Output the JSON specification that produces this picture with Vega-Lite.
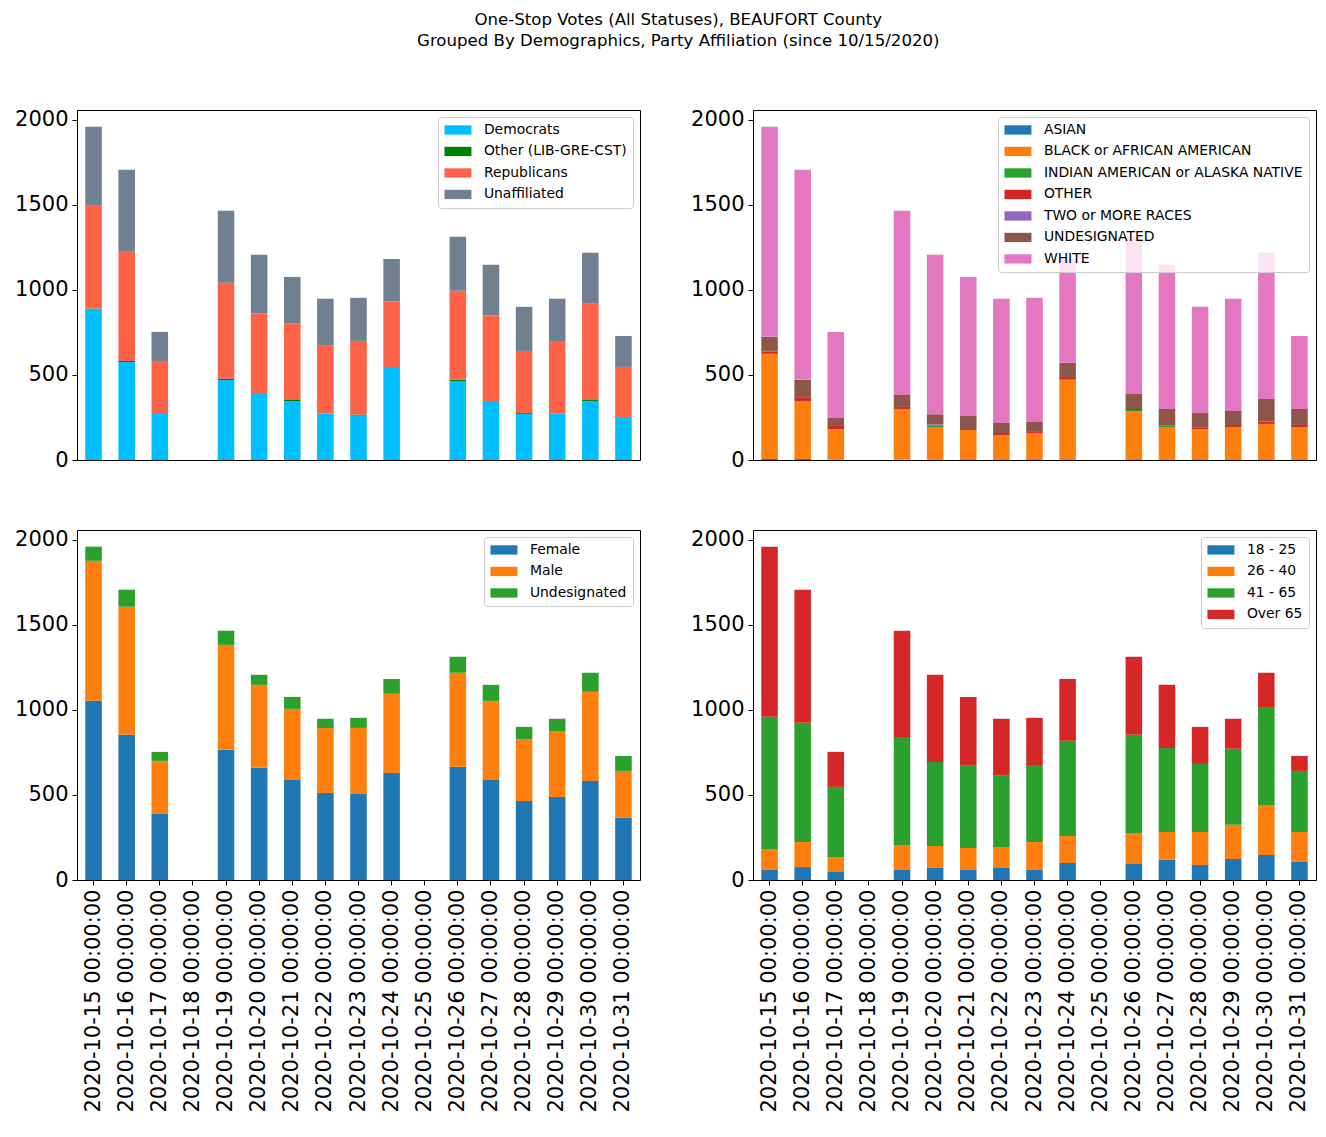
{
  "$schema": "https://vega.github.io/schema/vega-lite/v6.json",
  "padding": {"left": 14, "top": 11, "right": 6, "bottom": 5},
  "background": "white",
  "title": {
    "text": ["One-Stop Votes (All Statuses), BEAUFORT County", "Grouped By Demographics, Party Affiliation (since 10/15/2020)"],
    "fontSize": 16.6, "fontWeight": "normal", "font": "DejaVu Sans", "color": "black",
    "anchor": "middle", "lineHeight": 21, "offset": 59, "dx": 13
  },
  "datasets": {
    "party": [
      {"date": "2020-10-15 00:00:00", "Democrats": 888, "Other (LIB-GRE-CST)": 2, "Republicans": 604, "Unaffiliated": 465},
      {"date": "2020-10-16 00:00:00", "Democrats": 576, "Other (LIB-GRE-CST)": 6, "Republicans": 647, "Unaffiliated": 477},
      {"date": "2020-10-17 00:00:00", "Democrats": 276, "Other (LIB-GRE-CST)": 0, "Republicans": 306, "Unaffiliated": 171},
      {"date": "2020-10-19 00:00:00", "Democrats": 470, "Other (LIB-GRE-CST)": 8, "Republicans": 563, "Unaffiliated": 424},
      {"date": "2020-10-20 00:00:00", "Democrats": 394, "Other (LIB-GRE-CST)": 0, "Republicans": 467, "Unaffiliated": 345},
      {"date": "2020-10-21 00:00:00", "Democrats": 345, "Other (LIB-GRE-CST)": 8, "Republicans": 449, "Unaffiliated": 274},
      {"date": "2020-10-22 00:00:00", "Democrats": 272, "Other (LIB-GRE-CST)": 2, "Republicans": 398, "Unaffiliated": 275},
      {"date": "2020-10-23 00:00:00", "Democrats": 261, "Other (LIB-GRE-CST)": 6, "Republicans": 433, "Unaffiliated": 253},
      {"date": "2020-10-24 00:00:00", "Democrats": 547, "Other (LIB-GRE-CST)": 0, "Republicans": 384, "Unaffiliated": 251},
      {"date": "2020-10-26 00:00:00", "Democrats": 465, "Other (LIB-GRE-CST)": 6, "Republicans": 523, "Unaffiliated": 318},
      {"date": "2020-10-27 00:00:00", "Democrats": 347, "Other (LIB-GRE-CST)": 0, "Republicans": 502, "Unaffiliated": 298},
      {"date": "2020-10-28 00:00:00", "Democrats": 271, "Other (LIB-GRE-CST)": 5, "Republicans": 365, "Unaffiliated": 259},
      {"date": "2020-10-29 00:00:00", "Democrats": 272, "Other (LIB-GRE-CST)": 0, "Republicans": 428, "Unaffiliated": 247},
      {"date": "2020-10-30 00:00:00", "Democrats": 347, "Other (LIB-GRE-CST)": 6, "Republicans": 566, "Unaffiliated": 299},
      {"date": "2020-10-31 00:00:00", "Democrats": 253, "Other (LIB-GRE-CST)": 0, "Republicans": 294, "Unaffiliated": 182}
    ],
    "race": [
      {"date": "2020-10-15 00:00:00", "ASIAN": 6, "BLACK or AFRICAN AMERICAN": 618, "INDIAN AMERICAN or ALASKA NATIVE": 0, "OTHER": 11, "TWO or MORE RACES": 6, "UNDESIGNATED": 83, "WHITE": 1235},
      {"date": "2020-10-16 00:00:00", "ASIAN": 6, "BLACK or AFRICAN AMERICAN": 341, "INDIAN AMERICAN or ALASKA NATIVE": 0, "OTHER": 18, "TWO or MORE RACES": 0, "UNDESIGNATED": 106, "WHITE": 1235},
      {"date": "2020-10-17 00:00:00", "ASIAN": 1, "BLACK or AFRICAN AMERICAN": 181, "INDIAN AMERICAN or ALASKA NATIVE": 0, "OTHER": 18, "TWO or MORE RACES": 0, "UNDESIGNATED": 47, "WHITE": 506},
      {"date": "2020-10-19 00:00:00", "ASIAN": 1, "BLACK or AFRICAN AMERICAN": 299, "INDIAN AMERICAN or ALASKA NATIVE": 0, "OTHER": 12, "TWO or MORE RACES": 0, "UNDESIGNATED": 70, "WHITE": 1083},
      {"date": "2020-10-20 00:00:00", "ASIAN": 1, "BLACK or AFRICAN AMERICAN": 193, "INDIAN AMERICAN or ALASKA NATIVE": 6, "OTHER": 4, "TWO or MORE RACES": 6, "UNDESIGNATED": 59, "WHITE": 937},
      {"date": "2020-10-21 00:00:00", "ASIAN": 0, "BLACK or AFRICAN AMERICAN": 176, "INDIAN AMERICAN or ALASKA NATIVE": 0, "OTHER": 6, "TWO or MORE RACES": 0, "UNDESIGNATED": 77, "WHITE": 817},
      {"date": "2020-10-22 00:00:00", "ASIAN": 0, "BLACK or AFRICAN AMERICAN": 147, "INDIAN AMERICAN or ALASKA NATIVE": 0, "OTHER": 12, "TWO or MORE RACES": 0, "UNDESIGNATED": 59, "WHITE": 729},
      {"date": "2020-10-23 00:00:00", "ASIAN": 0, "BLACK or AFRICAN AMERICAN": 159, "INDIAN AMERICAN or ALASKA NATIVE": 0, "OTHER": 6, "TWO or MORE RACES": 0, "UNDESIGNATED": 59, "WHITE": 729},
      {"date": "2020-10-24 00:00:00", "ASIAN": 0, "BLACK or AFRICAN AMERICAN": 471, "INDIAN AMERICAN or ALASKA NATIVE": 0, "OTHER": 11, "TWO or MORE RACES": 0, "UNDESIGNATED": 89, "WHITE": 611},
      {"date": "2020-10-26 00:00:00", "ASIAN": 0, "BLACK or AFRICAN AMERICAN": 288, "INDIAN AMERICAN or ALASKA NATIVE": 6, "OTHER": 6, "TWO or MORE RACES": 0, "UNDESIGNATED": 88, "WHITE": 924},
      {"date": "2020-10-27 00:00:00", "ASIAN": 0, "BLACK or AFRICAN AMERICAN": 194, "INDIAN AMERICAN or ALASKA NATIVE": 6, "OTHER": 4, "TWO or MORE RACES": 0, "UNDESIGNATED": 96, "WHITE": 847},
      {"date": "2020-10-28 00:00:00", "ASIAN": 0, "BLACK or AFRICAN AMERICAN": 182, "INDIAN AMERICAN or ALASKA NATIVE": 0, "OTHER": 6, "TWO or MORE RACES": 6, "UNDESIGNATED": 82, "WHITE": 624},
      {"date": "2020-10-29 00:00:00", "ASIAN": 0, "BLACK or AFRICAN AMERICAN": 194, "INDIAN AMERICAN or ALASKA NATIVE": 0, "OTHER": 12, "TWO or MORE RACES": 0, "UNDESIGNATED": 82, "WHITE": 659},
      {"date": "2020-10-30 00:00:00", "ASIAN": 0, "BLACK or AFRICAN AMERICAN": 212, "INDIAN AMERICAN or ALASKA NATIVE": 0, "OTHER": 12, "TWO or MORE RACES": 5, "UNDESIGNATED": 130, "WHITE": 859},
      {"date": "2020-10-31 00:00:00", "ASIAN": 0, "BLACK or AFRICAN AMERICAN": 194, "INDIAN AMERICAN or ALASKA NATIVE": 0, "OTHER": 12, "TWO or MORE RACES": 0, "UNDESIGNATED": 94, "WHITE": 429}
    ],
    "gender": [
      {"date": "2020-10-15 00:00:00", "Female": 1053, "Male": 823, "Undesignated": 83},
      {"date": "2020-10-16 00:00:00", "Female": 853, "Male": 753, "Undesignated": 100},
      {"date": "2020-10-17 00:00:00", "Female": 388, "Male": 312, "Undesignated": 53},
      {"date": "2020-10-19 00:00:00", "Female": 765, "Male": 617, "Undesignated": 83},
      {"date": "2020-10-20 00:00:00", "Female": 659, "Male": 488, "Undesignated": 59},
      {"date": "2020-10-21 00:00:00", "Female": 588, "Male": 418, "Undesignated": 70},
      {"date": "2020-10-22 00:00:00", "Female": 512, "Male": 382, "Undesignated": 53},
      {"date": "2020-10-23 00:00:00", "Female": 506, "Male": 388, "Undesignated": 59},
      {"date": "2020-10-24 00:00:00", "Female": 629, "Male": 465, "Undesignated": 88},
      {"date": "2020-10-26 00:00:00", "Female": 665, "Male": 553, "Undesignated": 94},
      {"date": "2020-10-27 00:00:00", "Female": 588, "Male": 465, "Undesignated": 94},
      {"date": "2020-10-28 00:00:00", "Female": 465, "Male": 364, "Undesignated": 71},
      {"date": "2020-10-29 00:00:00", "Female": 488, "Male": 388, "Undesignated": 71},
      {"date": "2020-10-30 00:00:00", "Female": 582, "Male": 524, "Undesignated": 112},
      {"date": "2020-10-31 00:00:00", "Female": 365, "Male": 276, "Undesignated": 88}
    ],
    "age": [
      {"date": "2020-10-15 00:00:00", "18 - 25": 59, "26 - 40": 123, "41 - 65": 777, "Over 65": 1000},
      {"date": "2020-10-16 00:00:00", "18 - 25": 76, "26 - 40": 148, "41 - 65": 700, "Over 65": 782},
      {"date": "2020-10-17 00:00:00", "18 - 25": 47, "26 - 40": 88, "41 - 65": 412, "Over 65": 206},
      {"date": "2020-10-19 00:00:00", "18 - 25": 59, "26 - 40": 147, "41 - 65": 635, "Over 65": 624},
      {"date": "2020-10-20 00:00:00", "18 - 25": 71, "26 - 40": 129, "41 - 65": 494, "Over 65": 512},
      {"date": "2020-10-21 00:00:00", "18 - 25": 59, "26 - 40": 129, "41 - 65": 483, "Over 65": 405},
      {"date": "2020-10-22 00:00:00", "18 - 25": 71, "26 - 40": 123, "41 - 65": 418, "Over 65": 335},
      {"date": "2020-10-23 00:00:00", "18 - 25": 59, "26 - 40": 165, "41 - 65": 447, "Over 65": 282},
      {"date": "2020-10-24 00:00:00", "18 - 25": 100, "26 - 40": 159, "41 - 65": 559, "Over 65": 364},
      {"date": "2020-10-26 00:00:00", "18 - 25": 94, "26 - 40": 182, "41 - 65": 577, "Over 65": 459},
      {"date": "2020-10-27 00:00:00", "18 - 25": 118, "26 - 40": 164, "41 - 65": 494, "Over 65": 371},
      {"date": "2020-10-28 00:00:00", "18 - 25": 88, "26 - 40": 194, "41 - 65": 400, "Over 65": 218},
      {"date": "2020-10-29 00:00:00", "18 - 25": 124, "26 - 40": 200, "41 - 65": 447, "Over 65": 176},
      {"date": "2020-10-30 00:00:00", "18 - 25": 147, "26 - 40": 294, "41 - 65": 571, "Over 65": 206},
      {"date": "2020-10-31 00:00:00", "18 - 25": 106, "26 - 40": 176, "41 - 65": 359, "Over 65": 88}
    ]
  },
  "vconcat": [
    {
      "hconcat": [
        {
          "width": 563, "height": 350,
          "data": {"name": "party"},
          "transform": [{"fold": ["Democrats", "Other (LIB-GRE-CST)", "Republicans", "Unaffiliated"], "as": ["group", "votes"]}],
          "mark": {"type": "bar"},
          "encoding": {
            "x": {"field": "date", "type": "nominal", "axis": null,
                  "scale": {"domain": ["2020-10-15 00:00:00","2020-10-16 00:00:00","2020-10-17 00:00:00","2020-10-18 00:00:00","2020-10-19 00:00:00","2020-10-20 00:00:00","2020-10-21 00:00:00","2020-10-22 00:00:00","2020-10-23 00:00:00","2020-10-24 00:00:00","2020-10-25 00:00:00","2020-10-26 00:00:00","2020-10-27 00:00:00","2020-10-28 00:00:00","2020-10-29 00:00:00","2020-10-30 00:00:00","2020-10-31 00:00:00"], "paddingInner": 0.5, "paddingOuter": 0.25}},
            "y": {"field": "votes", "type": "quantitative", "stack": "zero", "scale": {"domain": [0, 2057], "nice": false}, "axis": {"values": [0, 500, 1000, 1500, 2000], "format": "d"}},
            "color": {"field": "group", "type": "nominal", "scale": {"domain": ["Democrats", "Other (LIB-GRE-CST)", "Republicans", "Unaffiliated"], "range": ["#00bfff", "#008000", "#ff6347", "#708090"]}, "legend": {"title": null}},
            "order": {"field": "group", "sort": "ascending"}
          }
        },
        {
          "width": 563, "height": 350,
          "data": {"name": "race"},
          "transform": [{"fold": ["ASIAN", "BLACK or AFRICAN AMERICAN", "INDIAN AMERICAN or ALASKA NATIVE", "OTHER", "TWO or MORE RACES", "UNDESIGNATED", "WHITE"], "as": ["group", "votes"]}],
          "mark": {"type": "bar"},
          "encoding": {
            "x": {"field": "date", "type": "nominal", "axis": null,
                  "scale": {"domain": ["2020-10-15 00:00:00","2020-10-16 00:00:00","2020-10-17 00:00:00","2020-10-18 00:00:00","2020-10-19 00:00:00","2020-10-20 00:00:00","2020-10-21 00:00:00","2020-10-22 00:00:00","2020-10-23 00:00:00","2020-10-24 00:00:00","2020-10-25 00:00:00","2020-10-26 00:00:00","2020-10-27 00:00:00","2020-10-28 00:00:00","2020-10-29 00:00:00","2020-10-30 00:00:00","2020-10-31 00:00:00"], "paddingInner": 0.5, "paddingOuter": 0.25}},
            "y": {"field": "votes", "type": "quantitative", "stack": "zero", "scale": {"domain": [0, 2057], "nice": false}, "axis": {"values": [0, 500, 1000, 1500, 2000], "format": "d"}},
            "color": {"field": "group", "type": "nominal", "scale": {"domain": ["ASIAN", "BLACK or AFRICAN AMERICAN", "INDIAN AMERICAN or ALASKA NATIVE", "OTHER", "TWO or MORE RACES", "UNDESIGNATED", "WHITE"], "range": ["#1f77b4", "#ff7f0e", "#2ca02c", "#d62728", "#9467bd", "#8c564b", "#e377c2"]}, "legend": {"title": null}},
            "order": {"field": "group", "sort": "ascending"}
          }
        }
      ],
      "spacing": 49,
      "resolve": {"scale": {"color": "independent", "y": "independent", "x": "independent"}, "legend": {"color": "independent"}}
    },
    {
      "hconcat": [
        {
          "width": 563, "height": 350,
          "data": {"name": "gender"},
          "transform": [{"fold": ["Female", "Male", "Undesignated"], "as": ["group", "votes"]}],
          "mark": {"type": "bar"},
          "encoding": {
            "x": {"field": "date", "type": "nominal", "axis": {"labelAngle": -90},
                  "scale": {"domain": ["2020-10-15 00:00:00","2020-10-16 00:00:00","2020-10-17 00:00:00","2020-10-18 00:00:00","2020-10-19 00:00:00","2020-10-20 00:00:00","2020-10-21 00:00:00","2020-10-22 00:00:00","2020-10-23 00:00:00","2020-10-24 00:00:00","2020-10-25 00:00:00","2020-10-26 00:00:00","2020-10-27 00:00:00","2020-10-28 00:00:00","2020-10-29 00:00:00","2020-10-30 00:00:00","2020-10-31 00:00:00"], "paddingInner": 0.5, "paddingOuter": 0.25}},
            "y": {"field": "votes", "type": "quantitative", "stack": "zero", "scale": {"domain": [0, 2057], "nice": false}, "axis": {"values": [0, 500, 1000, 1500, 2000], "format": "d"}},
            "color": {"field": "group", "type": "nominal", "scale": {"domain": ["Female", "Male", "Undesignated"], "range": ["#1f77b4", "#ff7f0e", "#2ca02c"]}, "legend": {"title": null}},
            "order": {"field": "group", "sort": "ascending"}
          }
        },
        {
          "width": 563, "height": 350,
          "data": {"name": "age"},
          "transform": [{"fold": ["18 - 25", "26 - 40", "41 - 65", "Over 65"], "as": ["group", "votes"]}],
          "mark": {"type": "bar"},
          "encoding": {
            "x": {"field": "date", "type": "nominal", "axis": {"labelAngle": -90},
                  "scale": {"domain": ["2020-10-15 00:00:00","2020-10-16 00:00:00","2020-10-17 00:00:00","2020-10-18 00:00:00","2020-10-19 00:00:00","2020-10-20 00:00:00","2020-10-21 00:00:00","2020-10-22 00:00:00","2020-10-23 00:00:00","2020-10-24 00:00:00","2020-10-25 00:00:00","2020-10-26 00:00:00","2020-10-27 00:00:00","2020-10-28 00:00:00","2020-10-29 00:00:00","2020-10-30 00:00:00","2020-10-31 00:00:00"], "paddingInner": 0.5, "paddingOuter": 0.25}},
            "y": {"field": "votes", "type": "quantitative", "stack": "zero", "scale": {"domain": [0, 2057], "nice": false}, "axis": {"values": [0, 500, 1000, 1500, 2000], "format": "d"}},
            "color": {"field": "group", "type": "nominal", "scale": {"domain": ["18 - 25", "26 - 40", "41 - 65", "Over 65"], "range": ["#1f77b4", "#ff7f0e", "#2ca02c", "#d62728"]}, "legend": {"title": null}},
            "order": {"field": "group", "sort": "ascending"}
          }
        }
      ],
      "spacing": 49,
      "resolve": {"scale": {"color": "independent", "y": "independent", "x": "independent"}, "legend": {"color": "independent"}}
    }
  ],
  "spacing": 57,
  "resolve": {"scale": {"color": "independent", "y": "independent", "x": "independent"}, "legend": {"color": "independent"}},
  "config": {
    "font": "DejaVu Sans",
    "view": {"stroke": "black", "strokeWidth": 1},
    "bar": {"stroke": null},
    "axis": {
      "labelFont": "DejaVu Sans", "labelFontSize": 21, "labelColor": "black",
      "domain": false, "grid": false, "ticks": true, "tickSize": 5, "tickColor": "black", "tickWidth": 1,
      "labelPadding": 4, "title": null, "labelOverlap": false, "labelLimit": 400
    },
    "legend": {
      "orient": "top-right", "offset": 7,
      "labelFont": "DejaVu Sans", "labelFontSize": 13.9, "labelColor": "black", "labelLimit": 400,
      "symbolType": "M-2.077,-0.715L2.077,-0.715L2.077,0.715L-2.077,0.715Z", "symbolSize": 169,
      "symbolOffset": 7,
      "symbolStrokeWidth": 0, "symbolOpacity": 1,
      "labelOffset": 19, "rowPadding": 6.5,
      "padding": 6, "strokeColor": "#cccccc", "fillColor": "rgba(255,255,255,0.8)", "cornerRadius": 3
    }
  }
}
